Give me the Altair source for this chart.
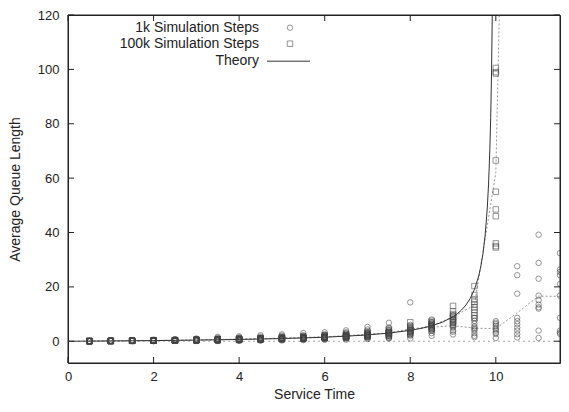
import altair as alt
import pandas as pd

steps = [0.5, 1.0, 1.5, 2.0, 2.5, 3.0, 3.5, 4.0, 4.5, 5.0, 5.5, 6.0,
         6.5, 7.0, 7.5, 8.0, 8.5, 9.0, 9.5, 10.0, 10.5, 11.0, 11.5]

# average queue length of each run, one list per service time
runs_1k = [
    [0.15, 0.1, 0.08, 0.06, 0.06, 0.05, 0.05, 0.04, 0.03, 0.02],
    [0.3, 0.2, 0.15, 0.13, 0.12, 0.11, 0.1, 0.08, 0.06, 0.03],
    [0.4, 0.3, 0.25, 0.2, 0.18, 0.17, 0.15, 0.12, 0.1, 0.05],
    [0.6, 0.45, 0.35, 0.3, 0.27, 0.25, 0.2, 0.15, 0.1, 0.05],
    [0.8, 0.6, 0.5, 0.4, 0.35, 0.3, 0.25, 0.2, 0.15, 0.1],
    [1.0, 0.8, 0.6, 0.5, 0.45, 0.4, 0.35, 0.3, 0.2, 0.1],
    [1.6, 1.2, 0.9, 0.8, 0.6, 0.5, 0.4, 0.3, 0.2, 0.1],
    [1.8, 1.4, 1.1, 0.9, 0.7, 0.6, 0.5, 0.4, 0.3, 0.2],
    [2.2, 1.7, 1.3, 1.1, 0.9, 0.8, 0.7, 0.5, 0.4, 0.2],
    [2.5, 2.0, 1.6, 1.3, 1.1, 1.0, 0.8, 0.7, 0.5, 0.3],
    [3.0, 2.2, 1.8, 1.5, 1.3, 1.1, 1.0, 0.8, 0.6, 0.4],
    [3.3, 2.6, 2.2, 1.8, 1.6, 1.4, 1.2, 1.0, 0.8, 0.5],
    [4.0, 3.3, 2.8, 2.3, 2.0, 1.8, 1.5, 1.2, 1.0, 0.6],
    [5.3, 4.3, 3.5, 3.0, 2.5, 2.0, 1.8, 1.5, 1.2, 0.8],
    [6.8, 5.0, 4.0, 3.5, 3.0, 2.5, 2.0, 1.5, 1.2, 1.0],
    [14.3, 6.0, 5.0, 4.5, 4.0, 3.5, 3.0, 2.5, 2.0, 1.0],
    [8.0, 7.0, 6.5, 6.0, 5.5, 5.0, 4.5, 4.0, 3.0, 2.0],
    [9.5, 8.0, 7.0, 6.5, 6.0, 5.5, 5.0, 4.0, 3.5, 2.5],
    [8.5, 7.5, 6.5, 5.5, 5.0, 4.5, 4.0, 3.0, 2.0, 1.5],
    [7.4, 6.8, 6.3, 5.7, 5.0, 4.4, 3.9, 3.2, 2.7, 1.2],
    [27.6, 24.3, 17.5, 8.6, 7.4, 6.3, 5.0, 3.9, 2.6, 1.4],
    [39.2, 28.8, 23.0, 16.8, 15.1, 13.5, 12.5, 12.0, 3.9, 1.2],
    [32.4, 26.4, 25.5, 24.3, 21.1, 16.8, 8.6, 3.9, 3.2, 2.7],
]

runs_100k = [
    [0.06, 0.06, 0.055, 0.055, 0.053, 0.052, 0.05, 0.05, 0.048, 0.045],
    [0.13, 0.12, 0.12, 0.11, 0.11, 0.11, 0.1, 0.1, 0.1, 0.09],
    [0.22, 0.2, 0.19, 0.18, 0.18, 0.17, 0.17, 0.16, 0.15, 0.14],
    [0.32, 0.3, 0.28, 0.26, 0.25, 0.25, 0.24, 0.23, 0.22, 0.2],
    [0.45, 0.4, 0.38, 0.35, 0.33, 0.32, 0.3, 0.3, 0.28, 0.25],
    [0.6, 0.55, 0.5, 0.45, 0.43, 0.42, 0.4, 0.38, 0.35, 0.3],
    [0.8, 0.7, 0.65, 0.6, 0.55, 0.5, 0.5, 0.45, 0.4, 0.35],
    [1.0, 0.9, 0.8, 0.75, 0.7, 0.65, 0.6, 0.55, 0.5, 0.45],
    [1.2, 1.1, 1.0, 0.9, 0.85, 0.8, 0.75, 0.7, 0.65, 0.6],
    [1.5, 1.3, 1.2, 1.1, 1.0, 1.0, 0.9, 0.9, 0.8, 0.7],
    [1.8, 1.5, 1.4, 1.3, 1.2, 1.2, 1.1, 1.0, 1.0, 0.9],
    [2.2, 1.9, 1.7, 1.6, 1.5, 1.5, 1.4, 1.3, 1.2, 1.1],
    [2.8, 2.4, 2.2, 2.0, 1.9, 1.8, 1.7, 1.6, 1.5, 1.3],
    [3.5, 3.0, 2.8, 2.5, 2.4, 2.3, 2.2, 2.0, 1.8, 1.6],
    [4.5, 4.0, 3.5, 3.3, 3.0, 3.0, 2.7, 2.5, 2.2, 2.0],
    [7.0, 5.5, 5.0, 4.5, 4.0, 4.0, 3.5, 3.5, 3.0, 2.5],
    [7.5, 7.0, 6.5, 6.0, 6.0, 5.5, 5.5, 5.0, 4.5, 4.0],
    [13.0, 11.0, 10.0, 9.5, 9.0, 8.5, 8.0, 7.5, 7.0, 6.0],
    [20.3, 17.0, 15.5, 14.5, 13.5, 12.5, 11.5, 10.5, 9.5, 8.5],
    [100.5, 99.0, 98.5, 66.5, 55.0, 48.5, 46.0, 36.0, 35.0, 34.5],
]

# dotted lines through the run averages
mean_1k = [0.06, 0.13, 0.19, 0.27, 0.37, 0.47, 0.66, 0.79, 0.98, 1.18, 1.37, 1.64,
           2.05, 2.59, 3.05, 4.58, 5.15, 5.75, 4.8, 4.66, 10.46, 16.6, 16.5]
mean_100k = [0.053, 0.109, 0.176, 0.255, 0.336, 0.438, 0.55, 0.69, 0.855, 1.04, 1.24,
             1.54, 1.92, 2.41, 3.07, 4.25, 5.75, 8.95, 13.3, 62.0, 420.0]

theory_x = [0, 0.5, 1, 1.5, 2, 2.5, 3, 3.5, 4, 4.5, 5, 5.5, 6, 6.5, 7, 7.5, 8, 8.25,
            8.5, 8.75, 9, 9.1, 9.2, 9.3, 9.4, 9.5, 9.6, 9.65, 9.7, 9.75, 9.8, 9.83,
            9.86, 9.88, 9.9, 9.92]
theory_y = [0, 0.05, 0.11, 0.18, 0.25, 0.33, 0.43, 0.54, 0.67, 0.82, 1.0, 1.22, 1.5,
            1.86, 2.33, 3.0, 4.0, 4.71, 5.67, 7.0, 9.0, 10.1, 11.5, 13.3, 15.7, 19.0,
            24.0, 27.6, 32.3, 39.0, 49.0, 57.8, 70.4, 82.3, 99.0, 124.0]

x_ticks = [0, 2, 4, 6, 8, 10]
y_ticks = [0, 20, 40, 60, 80, 100, 120]
series = ["1k Simulation Steps", "100k Simulation Steps", "Theory"]

FONT = "Liberation Sans"
INK = "#222"
W, H = 492, 348

points = pd.DataFrame(
    [(s, v, series[0]) for s, vals in zip(steps, runs_1k) for v in vals]
    + [(s, v, series[1]) for s, vals in zip(steps, runs_100k) for v in vals],
    columns=["x", "y", "series"],
)
means_1k = pd.DataFrame({"x": steps, "y": mean_1k})
means_100k = pd.DataFrame({"x": steps[:len(mean_100k)], "y": mean_100k})
theory = pd.DataFrame({"x": theory_x, "y": theory_y, "series": series[2]})

X = alt.X("x:Q", scale=alt.Scale(domain=[0, 11.5], nice=False, zero=False),
          axis=alt.Axis(values=x_ticks, ticks=False, domain=False, grid=False,
                        labelPadding=7, labelFlush=False, title="Service Time",
                        titleY=35, titleBaseline="alphabetic"))
Y = alt.Y("y:Q", scale=alt.Scale(domain=[-8, 120], nice=False, zero=False),
          axis=alt.Axis(values=y_ticks, ticks=False, domain=False, grid=False,
                        labelPadding=9, title="Average Queue Length",
                        titleX=-49, titleBaseline="alphabetic"))

zero_line = alt.Chart(pd.DataFrame({"y": [0]})).mark_rule(
    color="#aaa", strokeDash=[2, 3], strokeWidth=1
).encode(y=Y)

dotted_1k = alt.Chart(means_1k).mark_line(
    color="#999", strokeDash=[2, 2], strokeWidth=1, clip=True
).encode(x=X, y=Y)

dotted_100k = alt.Chart(means_100k).mark_line(
    color="#999", strokeDash=[2, 2], strokeWidth=1, clip=True
).encode(x=X, y=Y)

# labels sit left of their symbols, as in gnuplot keys
theory_line = alt.Chart(theory).mark_line(strokeWidth=1, clip=True).encode(
    x=X, y=Y,
    color=alt.Color("series:N", scale=alt.Scale(domain=[series[2]], range=["#333"]),
                    legend=alt.Legend(title=None, orient="none", legendX=198.5, legendY=24.2,
                                      symbolType="stroke", symbolSize=1849,
                                      symbolStrokeWidth=1, symbolStrokeColor="#333",
                                      labelAlign="right", labelOffset={"expr": "-51.5"},
                                      padding=0, labelFont=FONT, labelFontSize=14,
                                      labelColor=INK)),
)

scatter = alt.Chart(points).mark_point(
    filled=False, size=30, strokeWidth=0.8, color="#444", clip=True
).encode(
    x=X, y=Y,
    shape=alt.Shape("series:N", scale=alt.Scale(domain=series[:2], range=["circle", "square"]),
                    legend=alt.Legend(title=None, orient="none", legendX=215, legendY=5.7,
                                      symbolSize=30, symbolStrokeWidth=0.8,
                                      symbolStrokeColor="#444", symbolFillColor="transparent",
                                      labelAlign="right", labelOffset={"expr": "-38"},
                                      rowPadding=2, padding=0, labelFont=FONT,
                                      labelFontSize=14, labelColor=INK)),
)

# gnuplot style frame with ticks pointing into the plot on all four sides
frame = alt.Chart(pd.DataFrame({"x": [0]})).mark_rect(
    filled=False, stroke=INK, strokeWidth=1
).encode(x=alt.value(0), x2=alt.value(W), y=alt.value(0), y2=alt.value(H))

xt = alt.Chart(pd.DataFrame({"x": x_ticks}))
yt = alt.Chart(pd.DataFrame({"y": y_ticks}))
tick_style = dict(color=INK, strokeWidth=1)
ticks = (
    xt.mark_rule(**tick_style).encode(x=X, y=alt.value(H), y2=alt.value(H - 6))
    + xt.mark_rule(**tick_style).encode(x=X, y=alt.value(0), y2=alt.value(6))
    + yt.mark_rule(**tick_style).encode(y=Y, x=alt.value(0), x2=alt.value(6))
    + yt.mark_rule(**tick_style).encode(y=Y, x=alt.value(W), x2=alt.value(W - 6))
)

chart = alt.layer(
    zero_line, dotted_1k, dotted_100k, theory_line, scatter, frame, ticks
).properties(
    width=W, height=H,
    autosize=alt.AutoSizeParams(type="none"),
    padding={"left": 60, "top": 7, "right": 1, "bottom": 37},
).configure_view(
    stroke=INK, strokeWidth=1
).configure_axis(
    labelFont=FONT, labelFontSize=13, labelColor=INK,
    titleFont=FONT, titleFontSize=14, titleColor=INK, titleFontWeight="normal",
)

chart.save("out.html", embed_options={"renderer": "svg", "actions": False})
